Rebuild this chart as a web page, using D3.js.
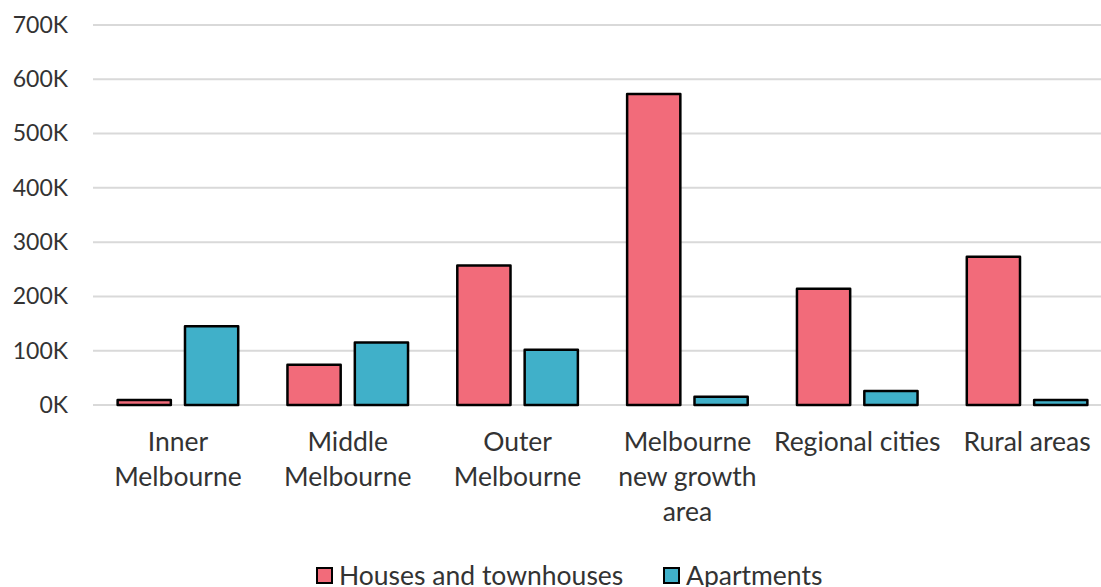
<!DOCTYPE html>
<html>
<head>
<meta charset="utf-8">
<script src="https://cdn.jsdelivr.net/npm/d3@7"></script>
<style>
  html, body { margin: 0; padding: 0; background: #fff; }
  svg { display: block; font-family: Lato, "Open Sans", sans-serif; }
</style>
</head>
<body>
<svg id="chart" width="1101" height="587"></svg>
<script>
// Dwellings by region and type
const categories = [
  ["Inner", "Melbourne"],
  ["Middle", "Melbourne"],
  ["Outer", "Melbourne"],
  ["Melbourne", "new growth", "area"],
  ["Regional cities"],
  ["Rural areas"]
];
const seriesNames = ["Houses and townhouses", "Apartments"];
const houses = [9000, 74000, 257000, 573000, 214000, 273000];
const apartments = [145000, 115000, 102000, 15000, 26000, 9000];
const yTicks = [0, 100000, 200000, 300000, 400000, 500000, 600000, 700000];
const colors = ["#f26b7a", "#40b0c9"];

const svg = d3.select("#chart");
const margin = { left: 93, right: -11, top: 25, bottom: 182 };
const W = 1101, H = 587;
const x0 = d3.scaleBand()
  .domain(d3.range(categories.length))
  .range([margin.left, W - margin.right])
  .paddingInner(0.29).paddingOuter(0.145);
const x1 = d3.scaleBand().domain([0, 1]).range([0, x0.bandwidth()]).paddingInner(0.21);
const y = d3.scaleLinear().domain([0, 700000]).range([H - margin.bottom, margin.top]);

// gridlines
svg.append("g").selectAll("line").data(yTicks).join("line")
  .attr("x1", margin.left).attr("x2", W)
  .attr("y1", d => y(d)).attr("y2", d => y(d))
  .attr("stroke", "#d9d9d9").attr("stroke-width", 2);

// y axis labels
const yAxis = d3.axisLeft(y).tickValues(yTicks).tickSize(0).tickPadding(0)
  .tickFormat(d => (d / 1000) + "K");
svg.append("g").attr("transform", `translate(68,0)`).call(yAxis)
  .call(g => g.select(".domain").remove())
  .selectAll("text").attr("font-size", 23).attr("fill", "#333")
  .attr("font-family", "Lato, sans-serif");

// bars
const rows = categories.map((c, i) => ({ i, vals: [houses[i], apartments[i]] }));
const groups = svg.append("g").selectAll("g").data(rows).join("g")
  .attr("transform", d => `translate(${x0(d.i)},0)`);
groups.selectAll("rect").data(d => d.vals.map((v, s) => ({ v, s }))).join("rect")
  .attr("x", d => x1(d.s))
  .attr("width", x1.bandwidth())
  .attr("y", d => y(d.v))
  .attr("height", d => y(0) - y(d.v))
  .attr("fill", d => colors[d.s])
  .attr("stroke", "#000").attr("stroke-width", 2.5)
  .attr("stroke-linejoin", "round");

// category labels
const labelG = svg.append("g");
rows.forEach(d => {
  const cx = x0(d.i) + x0.bandwidth() / 2;
  const t = labelG.append("text").attr("text-anchor", "middle")
    .attr("font-size", 26.5).attr("fill", "#333");
  categories[d.i].forEach((line, k) => {
    t.append("tspan").attr("x", cx).attr("y", 451 + k * 35).text(line);
  });
});

// legend
const legend = svg.append("g");
const legendItems = [
  { name: seriesNames[0], color: colors[0], x: 317 },
  { name: seriesNames[1], color: colors[1], x: 664 }
];
legendItems.forEach(it => {
  legend.append("rect").attr("x", it.x).attr("y", 568).attr("width", 15).attr("height", 15)
    .attr("fill", it.color).attr("stroke", "#000").attr("stroke-width", 2);
  legend.append("text").attr("x", it.x + 22).attr("y", 585)
    .attr("font-size", 26.5).attr("fill", "#333").text(it.name);
});
</script>
</body>
</html>
